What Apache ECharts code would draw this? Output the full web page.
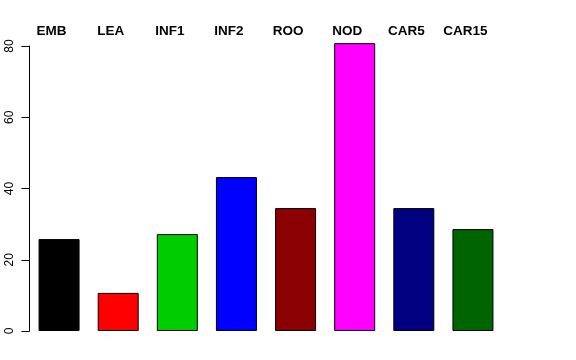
<!DOCTYPE html>
<html><head><meta charset="utf-8">
<script src="https://cdn.jsdelivr.net/npm/echarts@6/dist/echarts.min.js"></script>
<style>html,body{margin:0;padding:0;background:#fff}#c{width:576px;height:360px}</style>
</head><body><div id="c"></div>
<script>
var categories = ["EMB","LEA","INF1","INF2","ROO","NOD","CAR5","CAR15"];
var values = [25.8, 10.7, 27.2, 43.2, 34.5, 80.8, 34.5, 28.6];
var colors = ["#000000","#FF0000","#00CD00","#0000FF","#8B0000","#FF00FF","#000080","#006400"];
var yTicks = [0, 20, 40, 60, 80];

var chart = echarts.init(document.getElementById('c'), null, {renderer:'canvas'});
chart.setOption({
  animation:false,
  backgroundColor:'#fff',
  grid:[
    {left:29.5, right:73.5, top:46, bottom:29},
    {left:22, right:81, top:41, height:10}
  ],
  xAxis:[
    {type:'category', gridIndex:0, data:categories, axisLine:{show:false}, axisTick:{show:false}, axisLabel:{show:false}},
    {type:'category', gridIndex:1, position:'top', data:categories, axisLine:{show:false}, axisTick:{show:false},
     axisLabel:{show:true, interval:0, margin:3, fontFamily:'Liberation Sans', fontWeight:'bold', fontSize:13.5, color:'#000'}}
  ],
  yAxis:[
    {type:'value', gridIndex:0, min:0, max:80, interval:20, splitLine:{show:false},
     axisLine:{show:true, lineStyle:{color:'#000', width:1}},
     axisTick:{show:true, length:8, lineStyle:{color:'#000'}},
     axisLabel:{rotate:90, margin:14, fontFamily:'Liberation Sans', fontSize:12, color:'#000',
       formatter:function(v){return yTicks.indexOf(v)>=0? String(v):'';}}},
    {type:'value', gridIndex:1, show:false}
  ],
  series:[{
    type:'bar', xAxisIndex:0, yAxisIndex:0, clip:false, barWidth:41,
    data: values.map(function(v,i){return {value:v, itemStyle:{color:colors[i]}};}),
    itemStyle:{borderColor:'#000', borderWidth:1}
  }]
});
</script></body></html>
